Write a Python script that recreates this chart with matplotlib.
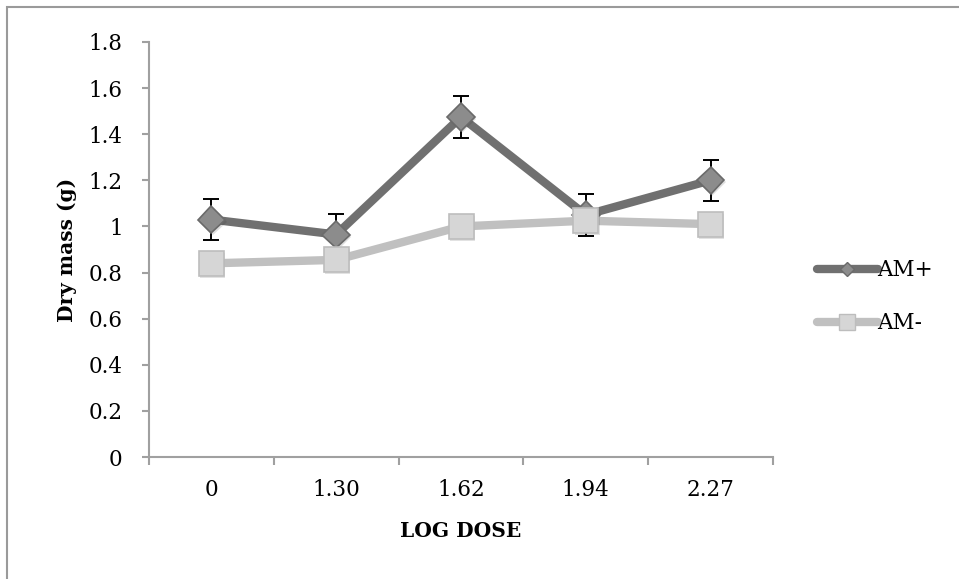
import matplotlib
matplotlib.use("Agg")
import matplotlib.pyplot as plt
import matplotlib.patheffects as pe
from matplotlib.lines import Line2D
from matplotlib.patches import Rectangle
import numpy as np

# values
doses = ["0", "1.30", "1.62", "1.94", "2.27"]
am_plus = [1.03, 0.965, 1.475, 1.05, 1.20]
am_plus_err = [0.09, 0.09, 0.09, 0.09, 0.09]
am_minus = [0.84, 0.855, 1.0, 1.025, 1.01]
y_ticks = [0, 0.2, 0.4, 0.6, 0.8, 1, 1.2, 1.4, 1.6, 1.8]
y_labels = ["0", "0.2", "0.4", "0.6", "0.8", "1", "1.2", "1.4", "1.6", "1.8"]

plt.rcParams["font.family"] = ["DejaVu Serif"]
FS = 15.5      # tick / legend text
FS_LAB = 14.5  # bold axis titles

W, H = 959, 579
fig = plt.figure(figsize=(W / 100, H / 100), dpi=100)
# outer chart frame (only top and left edges are visible in the crop)
fig.patches.append(Rectangle((7 / W, -0.1), 1.2, (H - 7) / H + 0.1,
                             transform=fig.transFigure, fill=False,
                             edgecolor="#9a9a9a", lw=1.5, clip_on=False))

ax = fig.add_axes([149 / W, (H - 457) / H, (773 - 149) / W, (457 - 42) / H])
x = np.arange(len(doses))

plus_c, plus_fc, plus_ec = "#707070", "#8c8c8c", "#6a6a6a"
minus_c, minus_fc, minus_ec = "#c0c0c0", "#d6d6d6", "#bdbdbd"
shadow = [pe.SimplePatchShadow(offset=(1, -1.5), alpha=0.15), pe.Normal()]

ax.errorbar(x, am_plus, yerr=am_plus_err, fmt="none", ecolor="black",
            elinewidth=1.4, capsize=6, capthick=1.4, zorder=2)
ax.plot(x, am_plus, color=plus_c, lw=6, zorder=3)
ax.plot(x, am_plus, ls="none", marker="D", ms=14, mfc=plus_fc, mec=plus_ec,
        mew=1.2, zorder=3.5, path_effects=shadow)
ax.plot(x, am_minus, color=minus_c, lw=6, zorder=4)
ax.plot(x, am_minus, ls="none", marker="s", ms=18, mfc=minus_fc,
        mec=minus_ec, mew=1.2, zorder=4.5, path_effects=shadow)

ax.set_xlim(-0.5, len(doses) - 0.5)
ax.set_ylim(0, 1.8)
ax.set_xticks(x)
ax.set_xticklabels(doses)
ax.set_xticks(np.arange(len(doses) + 1) - 0.5, minor=True)
ax.set_yticks(y_ticks)
ax.set_yticklabels(y_labels)

for s in ["top", "right"]:
    ax.spines[s].set_visible(False)
for s in ["left", "bottom"]:
    ax.spines[s].set_color("#a0a0a0")
    ax.spines[s].set_linewidth(1.5)

ax.tick_params(axis="x", which="major", length=0, pad=16, labelsize=FS)
ax.tick_params(axis="x", which="minor", direction="out", length=6,
               width=1.5, color="#a0a0a0")
ax.tick_params(axis="y", direction="out", length=5, width=1.5,
               color="#a0a0a0", pad=14, labelsize=FS)

ax.set_xlabel("LOG DOSE", fontsize=FS_LAB, fontweight="bold")
ax.xaxis.set_label_coords(0.5, -0.178)
ax.xaxis.label.set_va("center")
ax.set_ylabel("Dry mass (g)", fontsize=FS_LAB, fontweight="bold")
ax.yaxis.set_label_coords(-0.131, 0.5)
ax.yaxis.label.set_va("center")

handles = [
    Line2D([], [], color=plus_c, lw=6, marker="D", ms=7.5, mfc=plus_fc,
           mec=plus_ec, mew=1, solid_capstyle="round"),
    Line2D([], [], color=minus_c, lw=6, marker="s", ms=12, mfc=minus_fc,
           mec=minus_ec, mew=1, solid_capstyle="round"),
]
ax.legend(handles, ["AM+", "AM-"], loc="center left",
          bbox_to_anchor=(1.071, 0.386), frameon=False, fontsize=FS,
          handlelength=2.8, handletextpad=0.0, labelspacing=1.45,
          borderpad=0, borderaxespad=0)

fig.savefig("out.png", dpi=100)
